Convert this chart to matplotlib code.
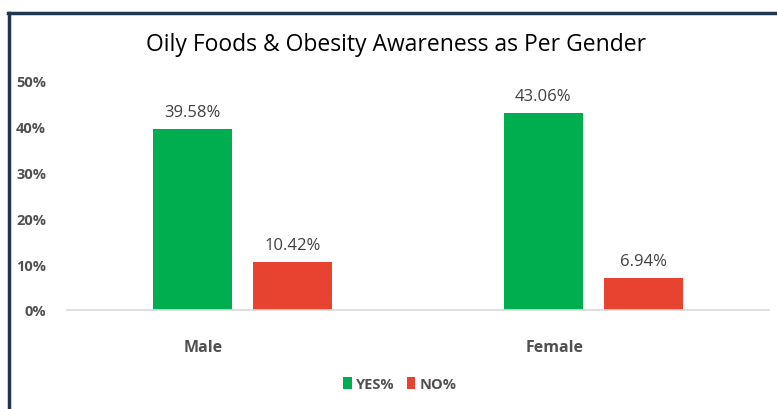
import matplotlib
matplotlib.use("Agg")
import matplotlib.pyplot as plt
import numpy as np
from matplotlib.lines import Line2D

categories = ["Male", "Female"]
yes_values = [39.58, 43.06]
no_values = [10.42, 6.94]
series_names = ["YES%", "NO%"]
yticks = [0, 10, 20, 30, 40, 50]

W, H = 777, 410
fig = plt.figure(figsize=(W/100, H/100), dpi=100)
plt.rcParams['font.family'] = ['Open Sans', 'DejaVu Sans']

ax = fig.add_axes([67/W, 1-311/H, (769-67)/W, (311-82)/H])
x = np.arange(len(categories))
bw = 0.225
off = 0.1435
green = "#00AD4F"
red = "#E84330"
b1 = ax.bar(x - off, yes_values, bw, color=green, label=series_names[0])
b2 = ax.bar(x + off, no_values, bw, color=red, label=series_names[1])
ax.set_xlim(-0.5, 1.5)
ax.set_ylim(0, 50)
ax.set_yticks(yticks)
ax.set_yticklabels([f"{v}%" for v in yticks], fontsize=10.5, fontweight='bold', color="#505050")
ax.set_xticks([])
ax.tick_params(axis='both', length=0)
ax.tick_params(axis='y', pad=15)
for s in ["top", "right", "left"]:
    ax.spines[s].set_visible(False)
ax.spines["bottom"].set_color("#D9D9D9")
ax.spines["bottom"].set_linewidth(1.2)

# category labels (offset left of group centre, as in the reference)
px = 72 / 100
for xi, cat in zip(x, categories):
    ax.annotate(cat, xy=(xi, 0), xycoords=('data', 'axes fraction'),
                xytext=(-39 * px, -37 * px), textcoords='offset points',
                ha='center', va='center', fontsize=11.5, fontweight='bold', color="#505050")

for bars, vals in ((b1, yes_values), (b2, no_values)):
    for r, v in zip(bars, vals):
        ax.text(r.get_x() + r.get_width()/2, v + 2.0, f"{v:.2f}%", ha='center', va='bottom',
                fontsize=12, color="#404040")

fig.text(396/W, 1-45/H, "Oily Foods & Obesity Awareness as Per Gender", ha='center', va='center',
         fontsize=16.5, color="black")

leg = fig.legend(handles=[b1, b2], loc='center', bbox_to_anchor=(400/W, 1-385/H), ncol=2,
                 frameon=False, fontsize=10.5, handlelength=0.6, handleheight=0.8, columnspacing=0.8,
                 handletextpad=0.3)
for t in leg.get_texts():
    t.set_fontweight('bold')
    t.set_color("#505050")

# border
fig.add_artist(Line2D([8/W, 1], [1-14/H, 1-14/H], color="#1F3550", lw=2.5))
fig.add_artist(Line2D([9/W, 9/W], [0, 1-14/H], color="#1F3550", lw=2.5))

fig.savefig("out.png", dpi=100)
